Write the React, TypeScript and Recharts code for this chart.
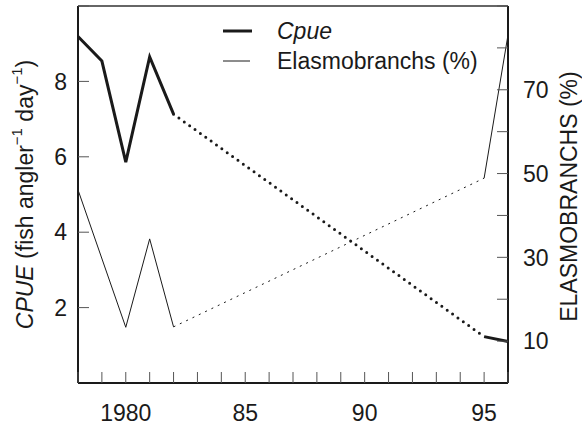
import { LineChart, Line, XAxis, YAxis, Legend, ReferenceLine } from 'recharts'

// Survey years; nothing was sampled between 1982 and 1995
const years = [1978, 1979, 1980, 1981, 1982, 1995, 1996]
const cpue = [9.19, 8.54, 5.86, 8.65, 7.13, 1.23, 1.1]
const elasmo: (number | null)[] = [46.1, null, 13.3, 34.4, 13.4, 48.9, 83.1]

const gapStart = 1982
const gapEnd = 1995

const xTicks = [1978, 1979, 1980, 1981, 1982, 1983, 1984, 1985, 1986, 1987, 1988, 1989, 1990, 1991, 1992, 1993, 1994, 1995, 1996]
const xTickLabels: Record<number, string> = { 1980: '1980', 1985: '85', 1990: '90', 1995: '95' }
const cpueTicks = [2, 4, 6, 8, 10]
const cpueTickLabels = [2, 4, 6, 8]
const elasmoTicks = [10, 20, 30, 40, 50, 60, 70, 80, 90]
const elasmoTickLabels = [10, 30, 50, 70]
const legendKeys = ['cpue', 'elasmo']

const data = years.map((year, i) => ({
  year,
  cpue: year <= gapStart ? cpue[i] : null,
  cpueGap: year === gapStart || year === gapEnd ? cpue[i] : null,
  cpueLate: year >= gapEnd ? cpue[i] : null,
  elasmo: year <= gapStart ? elasmo[i] : null,
  elasmoGap: year === gapStart || year === gapEnd ? elasmo[i] : null,
  elasmoLate: year >= gapEnd ? elasmo[i] : null,
}))

const FONT = '"Liberation Sans", Arial, Helvetica, sans-serif'
const INK = '#1a1a1a'
const TICK_INK = '#555'
const TICK_LEN = 11
const X_MARGIN = 22
const LEFT_MARGIN = 11
const RIGHT_MARGIN = 15

function XTick({ x, y, payload }: any) {
  const axisY = y - X_MARGIN
  const label = xTickLabels[payload.value]
  return (
    <g>
      <line x1={x} x2={x} y1={axisY} y2={axisY - TICK_LEN} stroke={TICK_INK} strokeWidth={1} />
      {label && (
        <text x={x} y={y} dy="0.71em" textAnchor="middle" fontSize={23} fill={INK}>{label}</text>
      )}
    </g>
  )
}

function LeftTick({ x, y, payload }: any) {
  const axisX = x + LEFT_MARGIN
  return (
    <g>
      <line x1={axisX} x2={axisX + TICK_LEN} y1={y} y2={y} stroke={TICK_INK} strokeWidth={1} />
      {cpueTickLabels.includes(payload.value) && (
        <text x={x} y={y} dy="0.36em" textAnchor="end" fontSize={23} fill={INK}>{payload.value}</text>
      )}
    </g>
  )
}

function RightTick({ x, y, payload }: any) {
  const axisX = x - RIGHT_MARGIN
  return (
    <g>
      <line x1={axisX} x2={axisX - TICK_LEN} y1={y} y2={y} stroke={TICK_INK} strokeWidth={1} />
      {elasmoTickLabels.includes(payload.value) && (
        <text x={x} y={y} dy="0.36em" textAnchor="start" fontSize={23} fill={INK}>{payload.value}</text>
      )}
    </g>
  )
}

function CpueTitle(props: any) {
  const vb = props.viewBox ?? { x: 0, y: 6, width: 78, height: 377 }
  const cx = vb.x + 25
  const cy = vb.y + vb.height / 2
  return (
    <text x={cx} y={cy} transform={`rotate(-90 ${cx} ${cy})`} textAnchor="middle" dominantBaseline="central" fontSize={23} fill={INK}>
      <tspan fontStyle="italic">CPUE</tspan>
      <tspan>{' (fish angler'}</tspan>
      <tspan dy={-9} fontSize={15}>{'\u22121'}</tspan>
      <tspan dy={9}>{' day'}</tspan>
      <tspan dy={-9} fontSize={15}>{'\u22121'}</tspan>
      <tspan dy={9}>{')'}</tspan>
    </text>
  )
}

function ElasmoTitle(props: any) {
  const vb = props.viewBox ?? { x: 508, y: 6, width: 74, height: 377 }
  const cx = vb.x + 61
  const cy = vb.y + vb.height / 2 + 2
  return (
    <text x={cx} y={cy} transform={`rotate(-90 ${cx} ${cy})`} textAnchor="middle" dominantBaseline="central" fontSize={23} fill={INK}>
      ELASMOBRANCHS (%)
    </text>
  )
}

function LegendContent({ payload }: any) {
  const items = (payload ?? []).filter((p: any) => legendKeys.includes(p.dataKey))
  return (
    <div>
      {items.map((p: any) => (
        <div key={p.dataKey} style={{ display: 'flex', alignItems: 'center', height: 30 }}>
          <svg width={29} height={4} style={{ display: 'block' }}>
            <line x1={0} x2={p.dataKey === 'cpue' ? 29 : 27} y1={2} y2={2} stroke={INK} strokeWidth={p.dataKey === 'cpue' ? 3 : 1} />
          </svg>
          <span style={{ marginLeft: 25, fontSize: 23, color: INK, fontStyle: p.dataKey === 'cpue' ? 'italic' : 'normal' }}>
            {p.value}
          </span>
        </div>
      ))}
    </div>
  )
}

export default function App() {
  return (
    <div style={{ position: 'absolute', left: 0, top: 0, fontFamily: FONT, background: '#fff' }}>
      <LineChart width={582} height={425} data={data} margin={{ top: 6, right: 0, bottom: 0, left: 0 }}>
        <XAxis
          dataKey="year"
          type="number"
          domain={[1978, 1996]}
          ticks={xTicks}
          interval={0}
          height={42}
          tickSize={0}
          tickMargin={X_MARGIN}
          tick={<XTick />}
          axisLine={{ stroke: INK, strokeWidth: 2 }}
        />
        <YAxis
          yAxisId="cpue"
          type="number"
          domain={[0, 10]}
          ticks={cpueTicks}
          interval={0}
          width={78}
          tickSize={0}
          tickMargin={LEFT_MARGIN}
          tick={<LeftTick />}
          axisLine={{ stroke: INK, strokeWidth: 2 }}
          label={{ content: (p: any) => <CpueTitle {...p} /> }}
        />
        <YAxis
          yAxisId="elasmo"
          orientation="right"
          type="number"
          domain={[0, 90]}
          ticks={elasmoTicks}
          interval={0}
          width={74}
          tickSize={0}
          tickMargin={RIGHT_MARGIN}
          tick={<RightTick />}
          axisLine={{ stroke: INK, strokeWidth: 2 }}
          label={{ content: (p: any) => <ElasmoTitle {...p} /> }}
        />
        <ReferenceLine yAxisId="cpue" y={10} stroke="#333" strokeWidth={1.5} />
        <Legend
          layout="vertical"
          align="center"
          verticalAlign="middle"
          content={<LegendContent />}
          wrapperStyle={{ top: 16, left: 223, width: 'auto' }}
        />
        <Line yAxisId="cpue" dataKey="cpue" name="Cpue" type="linear" stroke={INK} strokeWidth={3} dot={false} connectNulls isAnimationActive={false} />
        <Line yAxisId="cpue" dataKey="cpueGap" type="linear" stroke={INK} strokeWidth={3} strokeDasharray="0 6.6" strokeLinecap="round" dot={false} connectNulls legendType="none" isAnimationActive={false} />
        <Line yAxisId="cpue" dataKey="cpueLate" type="linear" stroke={INK} strokeWidth={3} dot={false} connectNulls legendType="none" isAnimationActive={false} />
        <Line yAxisId="elasmo" dataKey="elasmo" name="Elasmobranchs (%)" type="linear" stroke={INK} strokeWidth={1} dot={false} connectNulls isAnimationActive={false} />
        <Line yAxisId="elasmo" dataKey="elasmoGap" type="linear" stroke={INK} strokeWidth={1} strokeDasharray="2 5" dot={false} connectNulls legendType="none" isAnimationActive={false} />
        <Line yAxisId="elasmo" dataKey="elasmoLate" type="linear" stroke={INK} strokeWidth={1} dot={false} connectNulls legendType="none" isAnimationActive={false} />
      </LineChart>
    </div>
  )
}
